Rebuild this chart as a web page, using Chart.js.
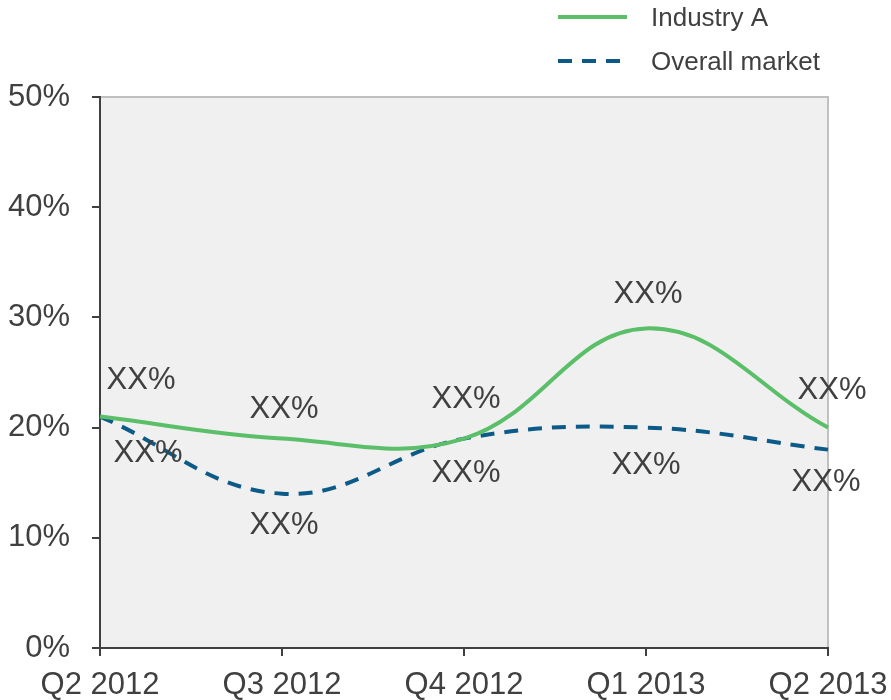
<!DOCTYPE html>
<html>
<head>
<meta charset="utf-8">
<script src="https://cdn.jsdelivr.net/npm/chart.js@4/dist/chart.umd.min.js"></script>
<style>
  html, body { margin: 0; padding: 0; background: #fff; }
  #wrap { width: 891px; height: 700px; }
</style>
</head>
<body>
<div id="wrap"><canvas id="lineChart"></canvas></div>
<script>
// Data
const quarters = ['Q2 2012', 'Q3 2012', 'Q4 2012', 'Q1 2013', 'Q2 2013'];
const industryA = [21, 19, 19, 29, 20];
const overallMarket = [21, 14, 19, 20, 18];
const pointLabels = ['XX%', 'XX%', 'XX%', 'XX%', 'XX%'];

const GREEN = '#5abf68';
const BLUE = '#0b5a88';
const TEXT = '#404040';
const FONT = '"Liberation Sans", Arial, sans-serif';

// label offsets from each point (dx, dy)
const labelOffsets = [
  [[41, -36], [2, -29], [2, -39], [2, -34], [4, -37]],
  [[48, 37], [2, 32], [2, 35], [0, 38], [-2, 33]]
];

const plotBackground = {
  id: 'plotBackground',
  beforeDraw(chart) {
    const { ctx, chartArea: a } = chart;
    ctx.save();
    ctx.fillStyle = '#f0f0f0';
    ctx.fillRect(a.left, a.top, a.right - a.left, a.bottom - a.top);
    ctx.strokeStyle = '#c0c0c0';
    ctx.lineWidth = 2;
    ctx.beginPath();
    ctx.moveTo(a.left, a.top);
    ctx.lineTo(a.right, a.top);
    ctx.lineTo(a.right, a.bottom);
    ctx.stroke();
    ctx.restore();
  }
};

const valueLabels = {
  id: 'valueLabels',
  afterDatasetsDraw(chart) {
    const { ctx } = chart;
    ctx.save();
    ctx.font = '31px ' + FONT;
    ctx.fillStyle = TEXT;
    ctx.textAlign = 'center';
    ctx.textBaseline = 'middle';
    chart.data.datasets.forEach((ds, i) => {
      chart.getDatasetMeta(i).data.forEach((pt, j) => {
        const [dx, dy] = labelOffsets[i][j];
        ctx.fillText(pointLabels[j], pt.x + dx, pt.y + dy);
      });
    });
    ctx.restore();
  }
};

// stacked legend, top right
const stackedLegend = {
  id: 'stackedLegend',
  afterDraw(chart) {
    const { ctx } = chart;
    ctx.save();
    ctx.font = '26px ' + FONT;
    ctx.fillStyle = TEXT;
    ctx.textBaseline = 'middle';
    chart.data.datasets.forEach((ds, i) => {
      const y = 17 + i * 44;
      ctx.strokeStyle = ds.borderColor;
      ctx.lineWidth = 4;
      ctx.setLineDash(ds.borderDash || []);
      ctx.beginPath();
      ctx.moveTo(558, y);
      ctx.lineTo(627, y);
      ctx.stroke();
      ctx.setLineDash([]);
      ctx.fillText(ds.label, 651, y + 2);
    });
    ctx.restore();
  }
};

new Chart(document.getElementById('lineChart'), {
  type: 'line',
  data: {
    labels: quarters,
    datasets: [{
      label: 'Industry A',
      data: industryA,
      borderColor: GREEN,
      borderWidth: 4,
      tension: 0.4,
      pointRadius: 0,
      fill: false
    }, {
      label: 'Overall market',
      data: overallMarket,
      borderColor: BLUE,
      borderWidth: 4,
      borderDash: [14, 10],
      tension: 0.4,
      pointRadius: 0,
      fill: false
    }]
  },
  options: {
    responsive: true,
    maintainAspectRatio: false,
    animation: false,
    layout: { padding: { top: 97, right: 63, left: 0, bottom: 0 } },
    plugins: {
      legend: { display: false },
      tooltip: { enabled: false }
    },
    scales: {
      x: {
        offset: false,
        grid: { drawOnChartArea: false, drawTicks: true, tickLength: 8, color: TEXT, lineWidth: 2 },
        border: { color: TEXT, width: 2 },
        ticks: { color: TEXT, font: { family: FONT, size: 31 }, padding: 11, maxRotation: 0 },
        afterFit(scale) {
          scale.height = 52;
          scale.paddingLeft = 0;
          scale.paddingRight = 0;
        }
      },
      y: {
        min: 0,
        max: 50,
        grid: { drawOnChartArea: false, drawTicks: true, tickLength: 8, color: TEXT, lineWidth: 2 },
        border: { color: TEXT, width: 2 },
        ticks: {
          stepSize: 10,
          color: TEXT,
          font: { family: FONT, size: 31 },
          padding: 22,
          callback: (v) => v + '%'
        },
        afterFit(scale) { scale.width = 100; }
      }
    }
  },
  plugins: [plotBackground, valueLabels, stackedLegend]
});
</script>
</body>
</html>
